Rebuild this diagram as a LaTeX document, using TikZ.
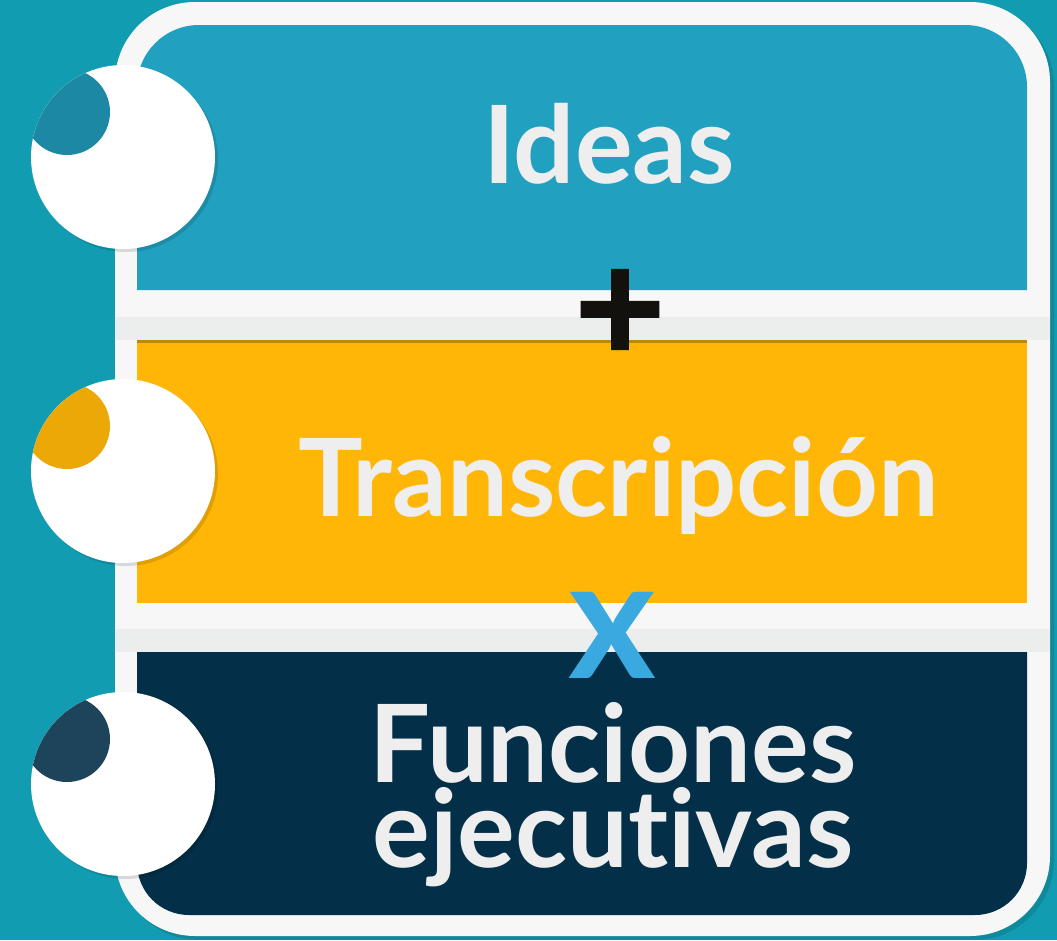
\documentclass[tikz,border=0pt]{standalone}
\usepackage{fontspec}
\setmainfont{Lato}[Ligatures=NoCommon]
\newfontfamily\plusfont{Lato}[FakeBold=4.5]
\usetikzlibrary{positioning}
\definecolor{bgteal}{HTML}{129CB2}
\definecolor{ideasblue}{HTML}{22A0C0}
\definecolor{transyellow}{HTML}{FFB606}
\definecolor{funcnavy}{HTML}{042F48}
\definecolor{framewhite}{HTML}{F7F7F7}
\definecolor{seamgray}{HTML}{ECEDED}
\definecolor{textgray}{HTML}{EEEEEE}
\definecolor{timesblue}{HTML}{3AA9E0}
\definecolor{plusblack}{HTML}{13110D}
\tikzset{%
  disc/.style     = {shape=circle, fill=white, inner sep=0pt,%
                     minimum size=184pt},%
  bandtext/.style = {font=\fontsize{108}{85}\selectfont\bfseries,%
                     text=textgray, inner sep=0pt, anchor=base},%
  sign/.style     = {inner sep=0pt}%
}

\begin{document}
\begin{tikzpicture}[x=1pt,y=-1pt]
  \useasboundingbox (0,0) rectangle (1057,940);
  \fill[bgteal] (0,0) rectangle (1057,940);
  % frame and seams
  \fill[black, opacity=0.12, rounded corners=80pt] (119,6) rectangle (1054,940);
  \fill[framewhite, rounded corners=80pt] (115,2) rectangle (1050,936);
  \fill[seamgray] (115,317) rectangle (1050,340);
  \fill[seamgray] (115,629) rectangle (1050,652);
  % bands
  \fill[ideasblue] (137,290) [rounded corners=62pt] -- (137,25) -- (1027,25)
    [sharp corners] -- (1027,290) -- cycle;
  \fill[transyellow] (137,340) rectangle (1027,603);
  \fill[transyellow!75!black] (137,340) rectangle (1027,343);
  \fill[funcnavy] (137,652) -- (1027,652) [rounded corners=52pt] -- (1027,915)
    -- (137,915) [sharp corners] -- cycle;
  % discs
  \foreach \name/\ypos/\col in {d1/157/ideasblue!85!black, d2/471/transyellow!92!black,
                                d3/784/funcnavy!90!white}{
    \fill[black, opacity=0.12] (126,\ypos+3) circle (92pt);
    \node[disc] (\name) at (123,\ypos) {};
    \begin{scope}
      \clip (\name) circle (92pt);
      \fill[\col] ([shift={(-56,-45)}]\name.center) circle (43pt);
    \end{scope}
  }
  % texts
  \node[bandtext] (ideas) at (609,183) {Ideas};
  \node[bandtext] (transcripcion) at (619,516) {Transcripción};
  \node[bandtext, align=center] (funciones) at (613,867) {Funciones\\ejecutivas};
  \node[sign, font=\fontsize{150}{150}\selectfont\plusfont, text=plusblack] (plus) at (620,316) {+};
  \node[sign, font=\fontsize{168}{168}\selectfont\bfseries, text=timesblue, anchor=base] (times) at (612,678) {x};
\end{tikzpicture}
\end{document}
